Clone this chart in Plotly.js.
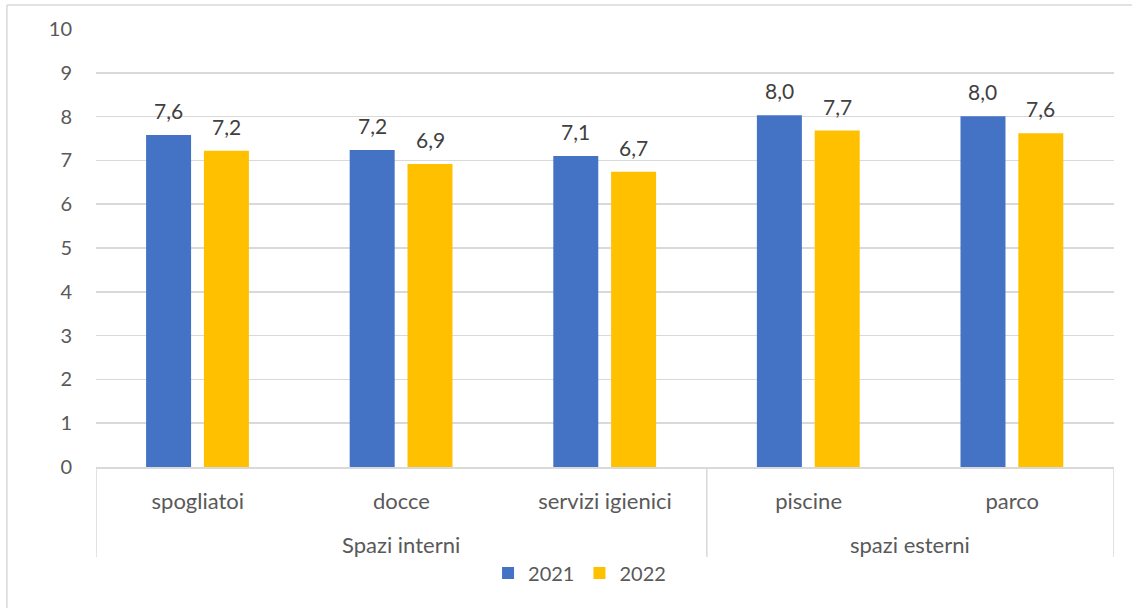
<!DOCTYPE html>
<html>
<head>
<meta charset="utf-8">
<script src="https://cdn.plot.ly/plotly-3.0.1.min.js"></script>
<style>
  html, body { margin: 0; padding: 0; background: #ffffff; }
  #chart { width: 1132px; height: 608px; }
</style>
</head>
<body>
<div id="chart"></div>
<script>
// Satisfaction scores by area, two survey years
const groups = ['Spazi interni', 'Spazi interni', 'Spazi interni', 'spazi esterni', 'spazi esterni'];
const categories = ['spogliatoi', 'docce', 'servizi igienici', 'piscine', 'parco'];
const years = ['2021', '2022'];
const values2021 = [7.58, 7.24, 7.10, 8.03, 8.01];
const values2022 = [7.22, 6.92, 6.74, 7.68, 7.62];
const yTicks = [0, 1, 2, 3, 4, 5, 6, 7, 8, 9, 10];

const colors = ['#4472C4', '#FFC000'];
const FONT = 'Lato, "Open Sans", sans-serif';
const LINE = '#d9d9d9';

// bar geometry within each category slot (in category units)
const barWidth = 0.221;
const barOffsets = [-0.254, 0.030];

const series = [values2021, values2022];

const traces = series.map((vals, k) => ({
  type: 'bar',
  name: years[k],
  x: categories,
  y: vals,
  width: barWidth,
  offset: barOffsets[k],
  marker: { color: colors[k], line: { width: 0 } },
  hoverinfo: 'x+y+name'
}));

const annotations = [];
const shapes = [];

// value labels above each bar, placed on a linear twin of the category axis
series.forEach((vals, k) => {
  vals.forEach((v, i) => {
    annotations.push({
      xref: 'x2', yref: 'y',
      x: i + barOffsets[k] + barWidth / 2,
      y: v,
      text: v.toFixed(1).replace('.', ','),
      showarrow: false,
      yanchor: 'bottom',
      yshift: 10,
      font: { family: FONT, size: 21, color: '#404040' }
    });
  });
});

// second label row: one caption per group, with dividers at the group edges
const DIV_BOTTOM = -0.2055;
const groupSpans = [];
groups.forEach((g, i) => {
  const last = groupSpans[groupSpans.length - 1];
  if (last && last.name === g) last.end = i;
  else groupSpans.push({ name: g, start: i, end: i });
});
groupSpans.forEach((s, j) => {
  annotations.push({
    xref: 'x2', yref: 'paper',
    x: (s.start + s.end) / 2,
    y: -0.178,
    yanchor: 'middle',
    text: s.name,
    showarrow: false,
    font: { family: FONT, size: 22, color: '#595959' }
  });
  const edges = j === 0 ? [s.start - 0.5, s.end + 0.5] : [s.end + 0.5];
  edges.forEach(e => {
    shapes.push({
      type: 'line', xref: 'x2', yref: 'paper',
      x0: e, x1: e, y0: 0, y1: DIV_BOTTOM,
      line: { color: LINE, width: 1.5 }
    });
  });
});

// framing lines around the chart
shapes.push(
  { type: 'line', xref: 'paper', yref: 'paper', x0: -0.0875, x1: 1.02, y0: 1.0548, y1: 1.0548,
    line: { color: LINE, width: 1.5 } },
  { type: 'line', xref: 'paper', yref: 'paper', x0: -0.0875, x1: -0.0875, y0: 1.0548, y1: -0.33,
    line: { color: LINE, width: 1.5 } }
);

const layout = {
  width: 1132,
  height: 608,
  margin: { l: 96, r: 18, t: 29, b: 141 },
  paper_bgcolor: '#ffffff',
  plot_bgcolor: '#ffffff',
  font: { family: FONT, size: 21, color: '#595959' },
  showlegend: true,
  legend: {
    orientation: 'h',
    x: 0.475, xanchor: 'center',
    y: -0.242, yanchor: 'middle',
    font: { family: FONT, size: 20, color: '#595959' },
    itemwidth: 30,
    tracegroupgap: 0
  },
  xaxis: {
    type: 'category',
    showgrid: false,
    showline: true,
    linecolor: LINE,
    linewidth: 1.5,
    ticks: '',
    ticklabelstandoff: 14,
    tickfont: { family: FONT, size: 22, color: '#595959' },
    fixedrange: true
  },
  xaxis2: {
    overlaying: 'x',
    range: [-0.5, 4.5],
    visible: false,
    fixedrange: true
  },
  yaxis: {
    range: [0, 10],
    tickvals: yTicks,
    ticktext: yTicks.map(String),
    showgrid: true,
    gridcolor: LINE,
    gridwidth: 1.5,
    zeroline: false,
    showline: false,
    ticks: '',
    ticklabelstandoff: 23,
    tickfont: { family: FONT, size: 20, color: '#595959' },
    fixedrange: true
  },
  annotations: annotations,
  shapes: shapes
};

Plotly.newPlot('chart', traces, layout, { displayModeBar: false, staticPlot: true });
</script>
</body>
</html>
